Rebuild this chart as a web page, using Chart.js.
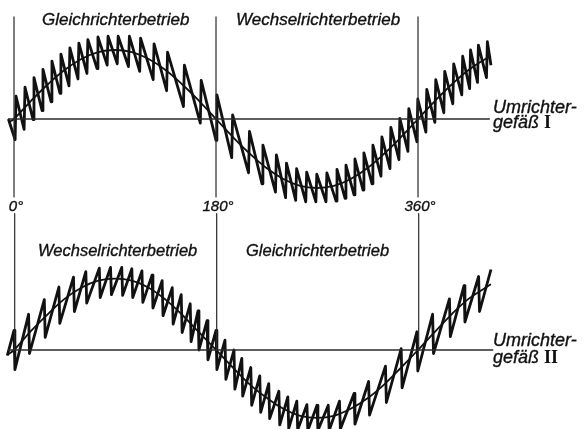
<!DOCTYPE html>
<html>
<head>
<meta charset="utf-8">
<script src="https://cdn.jsdelivr.net/npm/chart.js@4/dist/chart.umd.min.js"></script>
<style>
  body { margin: 0; background: #fff; }
  #wrap { position: relative; width: 584px; height: 429px; }
  #chart { position: absolute; left: 0; top: 0; }
  .lbl {
    position: absolute;
    font-family: "Liberation Sans", Arial, sans-serif;
    font-style: italic;
    color: #111;
    white-space: nowrap;
    line-height: 1;
    -webkit-text-stroke: 0.35px #111;
  }
  .roman { font-family: "Liberation Serif", serif; font-style: normal; font-weight: bold; -webkit-text-stroke: 0; }
</style>
</head>
<body>
<div id="wrap">
  <canvas id="chart" width="584" height="429"></canvas>
  <div class="lbl" style="left:42px; top:11px; font-size:17px;">Gleichrichterbetrieb</div>
  <div class="lbl" style="left:236px; top:11px; font-size:17px;">Wechselrichterbetrieb</div>
  <div class="lbl" style="left:38px; top:242px; font-size:16.5px;">Wechselrichterbetrieb</div>
  <div class="lbl" style="left:246px; top:242px; font-size:16.5px;">Gleichrichterbetrieb</div>
  <div class="lbl" style="left:493px; top:98px; font-size:18px;">Umrichter-</div>
  <div class="lbl" style="left:493px; top:113px; font-size:18px;">gefäß <span class="roman">I</span></div>
  <div class="lbl" style="left:493px; top:331px; font-size:18px;">Umrichter-</div>
  <div class="lbl" style="left:493px; top:348px; font-size:18px;">gefäß <span class="roman">II</span></div>
</div>

<script>
// phase angle marks along the time axis
const phaseTicks = [0, 180, 360];

// fundamental (smooth) output voltage, degrees vs. relative amplitude
const sineDeg = [-5, 0, 15, 30, 45, 60, 75, 90, 105, 120, 135, 150, 165, 180, 195, 210, 225, 240, 255, 270,
                 285, 300, 315, 330, 345, 360, 375, 390, 405, 420, 425];
const sineTop = [-0.05, 0, 0.26, 0.5, 0.71, 0.87, 0.97, 1.0, 0.97, 0.87, 0.71, 0.5, 0.26, 0, -0.26, -0.5, -0.71, -0.87, -0.97, -1.0,
                 -0.97, -0.87, -0.71, -0.5, -0.26, 0, 0.26, 0.5, 0.71, 0.87, 0.91];
const sineBottom = [-0.06, 0, 0.27, 0.51, 0.73, 0.89, 0.99, 1.02, 0.99, 0.89, 0.72, 0.5, 0.25, 0, -0.25, -0.49, -0.68, -0.84, -0.94, -0.97,
                    -0.94, -0.84, -0.69, -0.49, -0.25, 0, 0.26, 0.51, 0.73, 0.89, 0.94];

// converter group I: commutation instants, voltage before and after each jump
const toothDegTop = [1, 9, 17, 25, 33, 41, 49, 57, 65, 74, 83, 92, 102, 112, 124, 136, 151, 166, 180, 194,
                     209, 221, 233, 242, 251, 260, 269, 278, 287, 295, 303, 311, 319, 327, 335, 343, 351, 359,
                     367, 375, 383, 391, 399, 406, 413, 421];
const toothLowTop = [-0.30, -0.15, -0.01, 0.12, 0.25, 0.37, 0.48, 0.58, 0.66, 0.73, 0.78, 0.80, 0.76, 0.69, 0.57, 0.41, 0.18, -0.06, -0.31, -0.56,
                     -0.78, -0.94, -1.06, -1.14, -1.18, -1.20, -1.20, -1.20, -1.19, -1.15, -1.10, -1.03, -0.94, -0.83, -0.72, -0.59, -0.47, -0.33,
                     -0.19, -0.05, 0.09, 0.22, 0.35, 0.44, 0.53, 0.60];
const toothHighTop = [0.33, 0.46, 0.60, 0.72, 0.84, 0.94, 1.03, 1.10, 1.15, 1.19, 1.20, 1.20, 1.20, 1.17, 1.09, 0.97, 0.78, 0.56, 0.35, 0.06,
                      -0.18, -0.38, -0.52, -0.64, -0.72, -0.77, -0.80, -0.78, -0.73, -0.67, -0.58, -0.49, -0.38, -0.26, -0.12, 0.01, 0.15, 0.29,
                      0.43, 0.57, 0.69, 0.80, 0.91, 1.00, 1.07, 1.12];

// converter group II
const toothDegBottom = [0, 13, 27, 40, 53, 64, 76, 86, 96, 105, 114, 123, 132, 141, 149, 157, 164, 172, 180, 188,
                        196, 203, 211, 219, 227, 236, 244, 252, 261, 270, 280, 290, 303, 316, 331, 345, 359, 373,
                        388, 401, 414];
const toothHighBottom = [0.28, 0.51, 0.72, 0.90, 1.04, 1.12, 1.17, 1.18, 1.18, 1.16, 1.13, 1.07, 0.99, 0.89, 0.79, 0.66, 0.56, 0.42, 0.28, 0.14,
                         0.00, -0.12, -0.25, -0.37, -0.48, -0.59, -0.67, -0.73, -0.78, -0.79, -0.79, -0.73, -0.62, -0.45, -0.23, 0.02, 0.26, 0.51,
                         0.73, 0.92, 1.05];
const toothLowBottom = [-0.28, -0.05, 0.18, 0.38, 0.55, 0.67, 0.75, 0.79, 0.78, 0.75, 0.68, 0.60, 0.49, 0.37, 0.25, 0.12, 0.00, -0.14, -0.28, -0.42,
                        -0.56, -0.66, -0.79, -0.89, -0.98, -1.07, -1.12, -1.14, -1.15, -1.15, -1.15, -1.13, -1.06, -0.93, -0.75, -0.54, -0.30, -0.05,
                        0.19, 0.40, 0.55];

const INK = "#111";
const AXIS = "#2a2a2a";

function pts(xs, ys) {
    return xs.map((x, i) => ({ x: x, y: ys[i] }));
}

// group I jumps upward at each commutation, group II downward
function sawTop() {
    const out = [{ x: -5, y: 0.0 }];
    toothDegTop.forEach((d, i) => {
        out.push({ x: d, y: toothLowTop[i] });
        out.push({ x: d + 0.8, y: toothHighTop[i] });
    });
    out.push({ x: 425, y: 0.78 });
    return out;
}

function sawBottom() {
    const out = [{ x: -6, y: -0.08 }];
    toothDegBottom.forEach((d, i) => {
        out.push({ x: d, y: toothHighBottom[i] });
        out.push({ x: d + 0.8, y: toothLowBottom[i] });
    });
    out.push({ x: 425, y: 1.15 });
    return out;
}

function line(data, yAxisID, width, color, tension) {
    return {
        data: data,
        yAxisID: yAxisID,
        showLine: true,
        borderColor: color,
        borderWidth: width,
        pointRadius: 0,
        tension: tension || 0,
        borderJoinStyle: "round",
        fill: false
    };
}

const datasets = [];

// zero lines
datasets.push(line([{ x: -5.3, y: 0 }, { x: 424, y: 0 }], "yTop", 1.3, AXIS));
datasets.push(line([{ x: -5.3, y: 0 }, { x: 427, y: 0 }], "yBot", 1.3, AXIS));

// phase marks
phaseTicks.forEach(t => {
    datasets.push(line([{ x: t, y: 1.48 }, { x: t, y: -1.13 }], "yTop", 1.2, AXIS));
    datasets.push(line([{ x: t + 0.6, y: 1.95 }, { x: t + 0.6, y: 0 }], "yBot", 1.2, AXIS));
});

datasets.push(line(pts(sineDeg, sineTop), "yTop", 1.8, INK, 0.4));
datasets.push(line(pts(sineDeg, sineBottom), "yBot", 1.8, INK, 0.4));
datasets.push(line(sawTop(), "yTop", 2.8, INK));
datasets.push(line(sawBottom(), "yBot", 2.8, INK));

const chart = new Chart(document.getElementById("chart"), {
    type: "scatter",
    data: { datasets: datasets },
    options: {
        responsive: false,
        animation: false,
        devicePixelRatio: 1,
        layout: { padding: 0 },
        plugins: { legend: { display: false }, tooltip: { enabled: false } },
        scales: {
            x: { type: "linear", min: -12.48, max: 507.9, display: false },
            yTop: { type: "linear", position: "left", min: -4.4928, max: 1.7246, display: false },
            yBot: { type: "linear", position: "left", min: -1.1286, max: 5.0, display: false }
        }
    }
});

// degree labels between the two panels
const wrap = document.getElementById("wrap");
phaseTicks.forEach(t => {
    const el = document.createElement("div");
    el.className = "lbl";
    el.textContent = t + "°";
    el.style.fontSize = "15px";
    el.style.top = "198px";
    el.style.left = (chart.scales.x.getPixelForValue(t) + 2) + "px";
    el.style.transform = "translateX(-50%)";
    wrap.appendChild(el);
});
</script>
</body>
</html>
